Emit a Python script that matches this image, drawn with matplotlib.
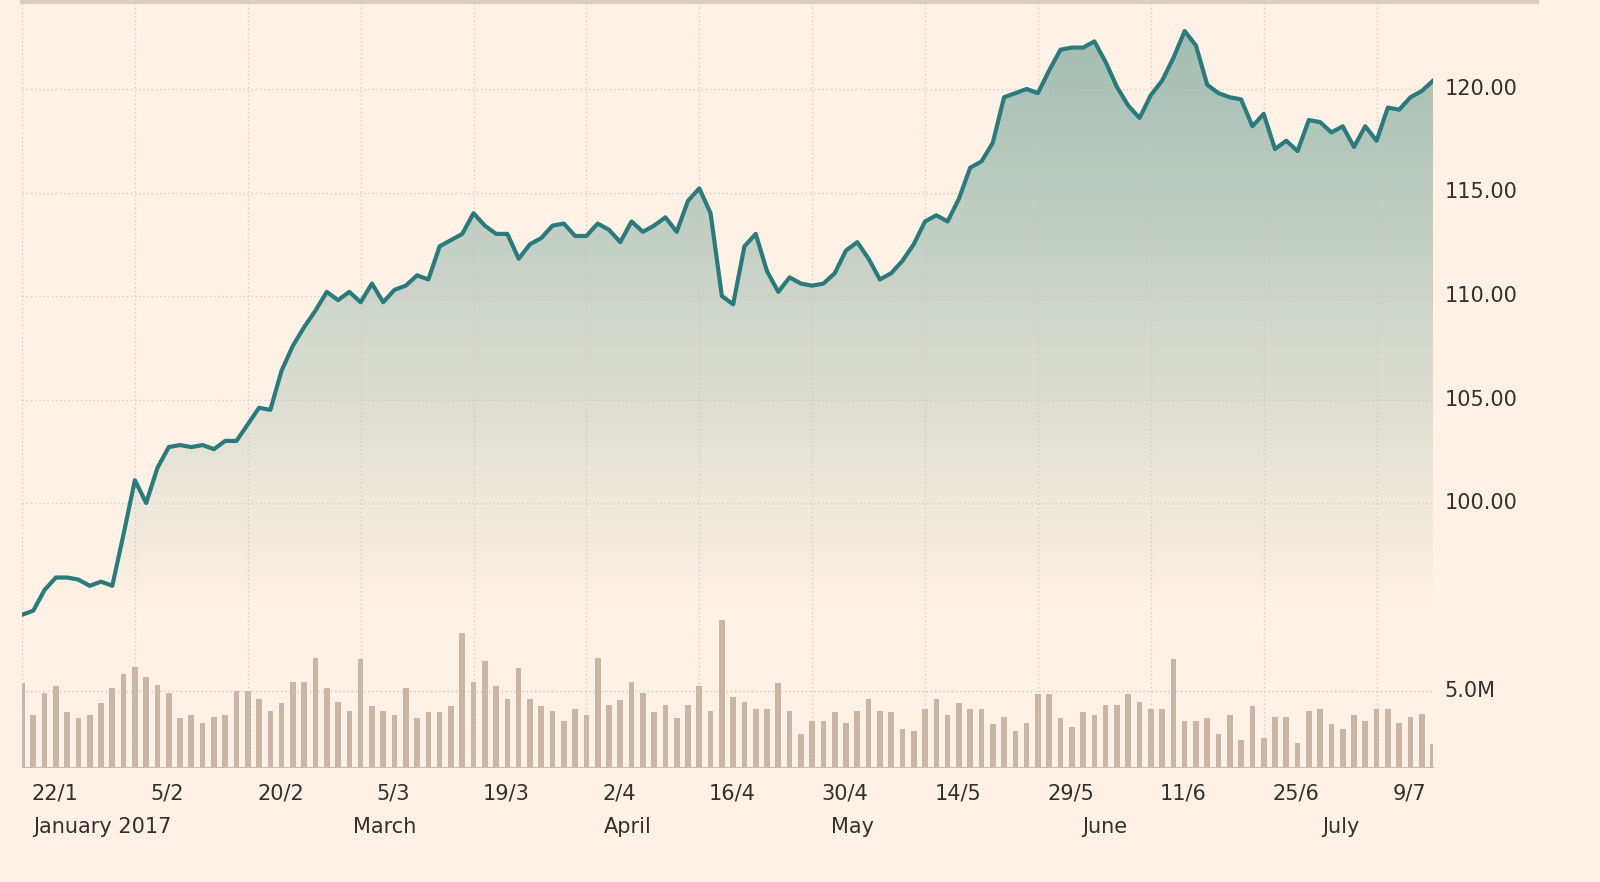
import matplotlib
matplotlib.use("Agg")
import matplotlib.pyplot as plt
import numpy as np
from matplotlib.colors import LinearSegmentedColormap

price = [94.6,94.8,95.8,96.4,96.4,96.3,96.0,96.2,96.0,98.5,101.1,100.0,101.7,102.7,102.8,102.7,102.8,102.6,103.0,103.0,
         103.8,104.6,104.5,106.4,107.6,108.5,109.3,110.2,109.8,110.2,109.7,110.6,109.7,110.3,110.5,111.0,110.8,112.4,112.7,113.0,
         114.0,113.4,113.0,113.0,111.8,112.5,112.8,113.4,113.5,112.9,112.9,113.5,113.2,112.6,113.6,113.1,113.4,113.8,113.1,114.6,
         115.2,114.0,110.0,109.6,112.4,113.0,111.2,110.2,110.9,110.6,110.5,110.6,111.1,112.2,112.6,111.8,110.8,111.1,111.7,112.5,
         113.6,113.9,113.6,114.7,116.2,116.5,117.4,119.6,119.8,120.0,119.8,120.9,121.9,122.0,122.0,122.3,121.3,120.1,119.2,118.6,
         119.7,120.4,121.5,122.8,122.1,120.2,119.8,119.6,119.5,118.2,118.8,117.1,117.5,117.0,118.5,118.4,117.9,118.2,117.2,118.2,
         117.5,119.1,119.0,119.6,119.9,120.4]
volume = [5.5,3.4,4.9,5.3,3.6,3.2,3.4,4.2,5.2,6.1,6.6,5.9,5.4,4.9,3.2,3.4,2.9,3.3,3.4,5.0,
          5.0,4.5,3.7,4.2,5.6,5.6,7.2,5.2,4.3,3.7,7.1,4.0,3.7,3.4,5.2,3.2,3.6,3.6,4.0,8.8,
          5.6,7.0,5.3,4.5,6.5,4.5,4.0,3.7,3.0,3.8,3.4,7.2,4.1,4.4,5.6,4.9,3.6,4.1,3.2,4.1,
          5.3,3.7,9.7,4.6,4.3,3.8,3.8,5.5,3.7,2.2,3.0,3.0,3.6,2.9,3.7,4.5,3.7,3.6,2.5,2.4,
          3.8,4.5,3.4,4.2,3.8,3.8,2.8,3.3,2.4,2.9,4.8,4.8,3.2,2.6,3.6,3.4,4.1,4.1,4.8,4.3,
          3.8,3.8,7.1,3.0,3.0,3.2,2.2,3.4,1.8,4.0,1.9,3.3,3.3,1.6,3.7,3.8,2.8,2.5,3.4,3.0,
          3.8,3.8,2.9,3.3,3.5,1.5]
date_labels = ["22/1","5/2","20/2","5/3","19/3","2/4","16/4","30/4","14/5","29/5","11/6","25/6","9/7"]
date_pos = list(range(0, 130, 10))
month_labels = ["January 2017","March","April","May","June","July"]
month_pos = [0, 28.3, 50.5, 70.7, 92.9, 114.2]

BG = "#fff1e5"
LINE = "#2b7b7c"
BAR = "#cbb6a4"
GRID = "#cfc4b9"
TXT = "#33302e"

fig = plt.figure(figsize=(16, 8.82), dpi=100, facecolor=BG)
l, r = 22/1600, 1433/1600
b, t = (882-767)/882, (882-2)/882
ax = fig.add_axes([l, b, r-l, t-b])
ax.set_facecolor(BG)
x = np.arange(len(price))
ax.set_xlim(0, len(price)-1)
ylo, yhi = 100 - 264/20.7, 100 + 501/20.7
ax.set_ylim(ylo, yhi)

axv = ax.twinx()
axv.set_ylim(0, 765/76*5)
axv.bar(x, volume, width=0.5, color=BAR, zorder=1)
axv.set_yticks([])
for s in axv.spines.values():
    s.set_visible(False)

cmap = LinearSegmentedColormap.from_list("g", [(0, BG), (1, "#a3bdb3")])
fade = 100 - 107/20.7
grad = np.linspace(0, 1, 256).reshape(-1, 1)
img = ax.imshow(grad, extent=[0, len(price)-1, fade, max(price)], origin="lower",
                aspect="auto", cmap=cmap, zorder=2)
poly = ax.fill_between(x, price, fade, color="none")
img.set_clip_path(poly.get_paths()[0], transform=ax.transData)
ax.plot(x, price, color=LINE, lw=3, zorder=4)
ax.set_zorder(axv.get_zorder()+1)
ax.patch.set_visible(False)

for yv in [100, 105, 110, 115, 120]:
    ax.axhline(yv, color=GRID, lw=1, ls=(0, (1, 2)), zorder=3, alpha=0.8)
axv.axhline(5, color=GRID, lw=1, ls=(0, (1, 2)), zorder=0)
for xv in date_pos:
    ax.axvline(xv, color=GRID, lw=1, ls=(0, (1, 2)), zorder=3, alpha=0.8)

ax.set_yticks([])
ax.set_xticks([])
for s in ["top", "right", "left"]:
    ax.spines[s].set_visible(False)
ax.spines["bottom"].set_color("#c8bdb2")

for yv in [100, 105, 110, 115, 120]:
    ax.text(1.008, (yv-ylo)/(yhi-ylo), f"{yv:.2f}", transform=ax.transAxes,
            va="center", ha="left", fontsize=15, color=TXT)
axv.text(1.008, 5/(765/76*5), "5.0M", transform=axv.transAxes,
         va="center", ha="left", fontsize=15, color=TXT)

trans = ax.get_xaxis_transform()
for p, lab in zip(date_pos, date_labels):
    ax.text(p + 2.9, -0.022, lab, transform=trans, ha="center", va="top", fontsize=15, color=TXT)
for p, lab in zip(month_pos, month_labels):
    ax.text(p + 1, -0.065, lab, transform=trans, ha="left", va="top", fontsize=15, color=TXT)

fig.add_artist(plt.Line2D([22/1600, 1537/1600], [880/882, 880/882], color="#d8cec3", lw=3))
fig.savefig("out.png", dpi=100, facecolor=BG)
